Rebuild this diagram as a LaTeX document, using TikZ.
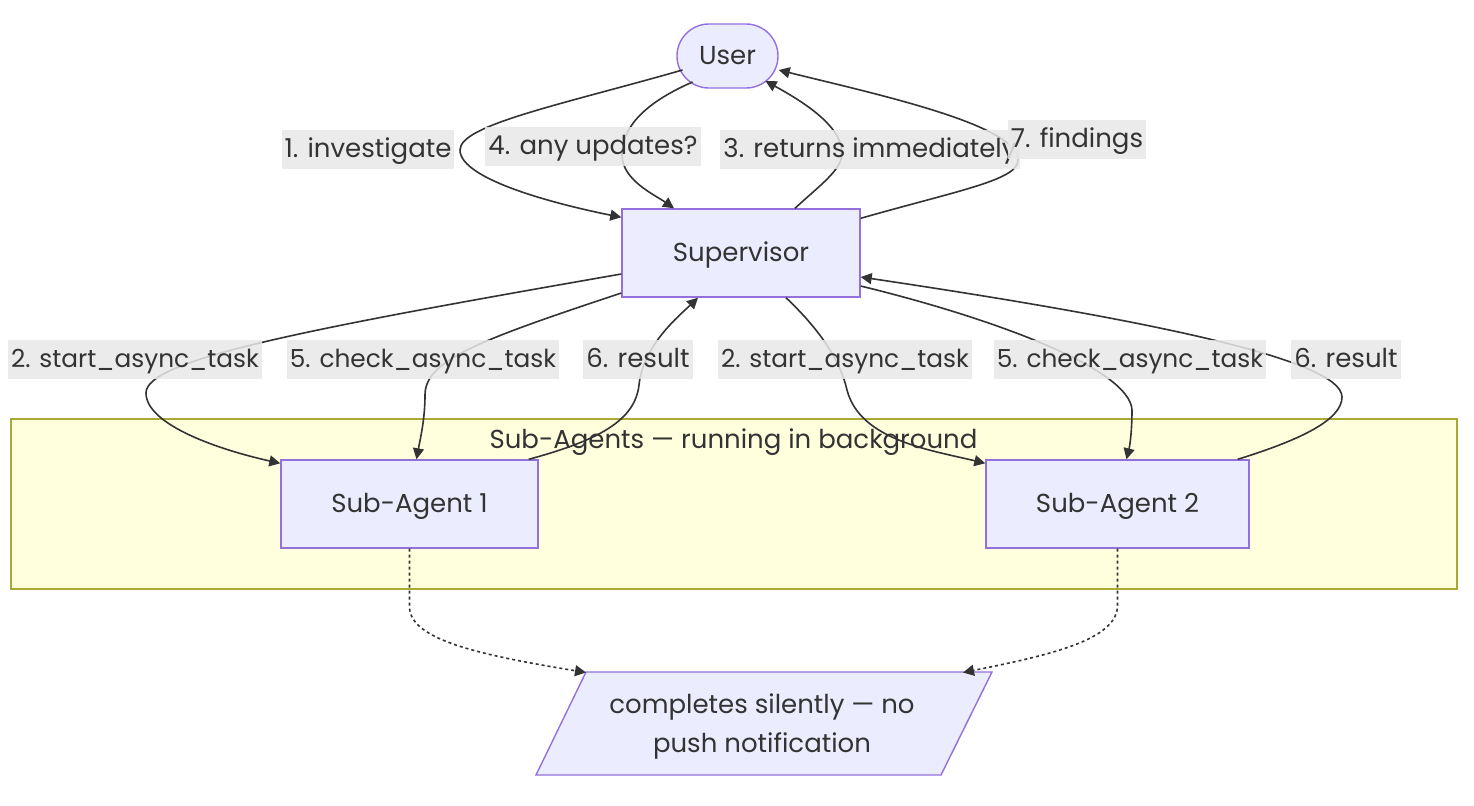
\documentclass[tikz,border=0pt]{standalone}
\usepackage{fontspec}
\setmainfont{Poppins}
\usetikzlibrary{arrows.meta,shapes.misc,calc}
\definecolor{nodefill}{HTML}{ECECFF}
\definecolor{nodeline}{HTML}{9370DB}
\definecolor{edgec}{HTML}{333333}
\definecolor{labelbg}{HTML}{E8E8E8}
\definecolor{clusterfill}{HTML}{FFFFDE}
\definecolor{clusterline}{HTML}{AAAA33}
\definecolor{txt}{HTML}{333333}
\begin{document}
\begin{tikzpicture}[x=0.5pt,y=-0.5pt, font=\fontsize{13}{16}\selectfont, text=txt,
  tx/.style={text height=11pt, text depth=2.4pt},
  box/.style={draw=nodeline, fill=nodefill, line width=0.7pt, inner sep=0pt, tx},
  lbl/.style={fill=labelbg, fill opacity=0.85, text opacity=1, inner xsep=1.5pt, inner ysep=0pt, minimum height=19.5pt, tx},
  slbl/.style={lbl, font=\fontsize{12.4}{15}\selectfont},
  conn/.style={draw=edgec, line width=0.8pt, -{Triangle[length=5.5pt,width=5.5pt]}},
  dotconn/.style={conn, dash pattern=on 1.5pt off 1.5pt}]
\useasboundingbox (0,0) rectangle (1474,805);
\fill[white] (0,0) rectangle (1474,805);
% cluster
\node[draw=clusterline, fill=clusterfill, line width=0.7pt, minimum width=723pt, minimum height=85pt, inner sep=0pt] (cluster) at (734,504) {};
\node[tx] (ctitle) at (733.5,440) {Sub-Agents — running in background};
% nodes
\node[box, rounded rectangle, minimum width=50.5pt, minimum height=32pt] (user) at (727.5,56) {User};
\node[box, minimum width=119pt, minimum height=44pt] (sup) at (741,253) {Supervisor};
\node[box, minimum width=128.5pt, minimum height=44pt] (sa1) at (409.5,504) {Sub-Agent 1};
\node[box, minimum width=131.5pt, minimum height=44pt] (sa2) at (1117.5,504) {Sub-Agent 2};
\coordinate (donec) at (764,723.5);
\path[box] ($(donec)+(-178,-51.5)$) -- ($(donec)+(228,-51.5)$) -- ($(donec)+(177,51.5)$) -- ($(donec)+(-228,51.5)$) -- cycle;
\node[align=center, font=\fontsize{13}{19.5}\selectfont] (done) at (762,726) {completes silently — no\\push notification};
% edges user <-> supervisor
\draw[conn] ($(user)+(-45,14)$) .. controls (560,105) and (460,125) .. (460,150) .. controls (460,180) and (560,205) .. ($(sup.north west)+(0,9)$);
\draw[conn] ($(user)+(-35,26)$) .. controls (640,105) and (622,130) .. (622,155) .. controls (622,180) and (655,195) .. ($(sup.north)+(-67,0)$);
\draw[conn] ($(sup.north)+(54,0)$) .. controls (820,185) and (842,170) .. (842,153) .. controls (842,125) and (800,100) .. ($(user)+(38,25)$);
\draw[conn] ($(sup.north east)+(0,10)$) .. controls (960,190) and (1018,180) .. (1018,160) .. controls (1018,125) and (880,95) .. ($(user.east)+(0,14)$);
% edges supervisor <-> sub-agents
\draw[conn] ($(sup.west)+(0,21)$) .. controls (300,330) and (146,360) .. (146,393) .. controls (146,425) and (220,450) .. ($(sa1.north west)+(0,4)$);
\draw[conn] ($(sup.west)+(0,40)$) .. controls (480,340) and (425,360) .. (425,395) .. controls (425,420) and (420,440) .. ($(sa1.north)+(7,0)$);
\draw[conn] ($(sa1.north east)+(-10,0)$) .. controls (600,440) and (635,420) .. (639,385) .. controls (643,345) and (680,315) .. ($(sup.south)+(-43,0)$);
\draw[conn] ($(sup.south)+(45,0)$) .. controls (820,330) and (840,360) .. (847,390) .. controls (860,440) and (930,450) .. ($(sa2.north west)+(0,4)$);
\draw[conn] ($(sup.east)+(0,33)$) .. controls (1000,320) and (1130,370) .. (1132,410) .. controls (1132,430) and (1130,445) .. ($(sa2.north)+(9,0)$);
\draw[conn] ($(sa2.north east)+(-12,0)$) .. controls (1300,440) and (1342,420) .. (1342,397) .. controls (1342,360) and (1150,320) .. ($(sup.east)+(0,24)$);
% dotted
\draw[dotconn] (sa1.south) -- ($(sa1.south)+(0,59)$) .. controls (411,640) and (480,655) .. ($(donec)+(-178,-51)$);
\draw[dotconn] (sa2.south) -- ($(sa2.south)+(0,57)$) .. controls (1117,640) and (1050,655) .. ($(donec)+(199,-51)$);
% labels
\node[lbl] (l1) at (368,149) {1. investigate};
\node[lbl] (l4) at (593,146) {4. any updates?};
\node[lbl] (l3) at (870,149) {3. returns immediately};
\node[lbl] (l7) at (1077,139) {7. findings};
\node[slbl] (l2a) at (135,359) {2. start\_async\_task};
\node[slbl] (l5a) at (423,359) {5. check\_async\_task};
\node[lbl] (l6a) at (638,359) {6. result};
\node[slbl] (l2b) at (845,359) {2. start\_async\_task};
\node[slbl] (l5b) at (1130,359) {5. check\_async\_task};
\node[lbl] (l6b) at (1346,359) {6. result};
\end{tikzpicture}
\end{document}
